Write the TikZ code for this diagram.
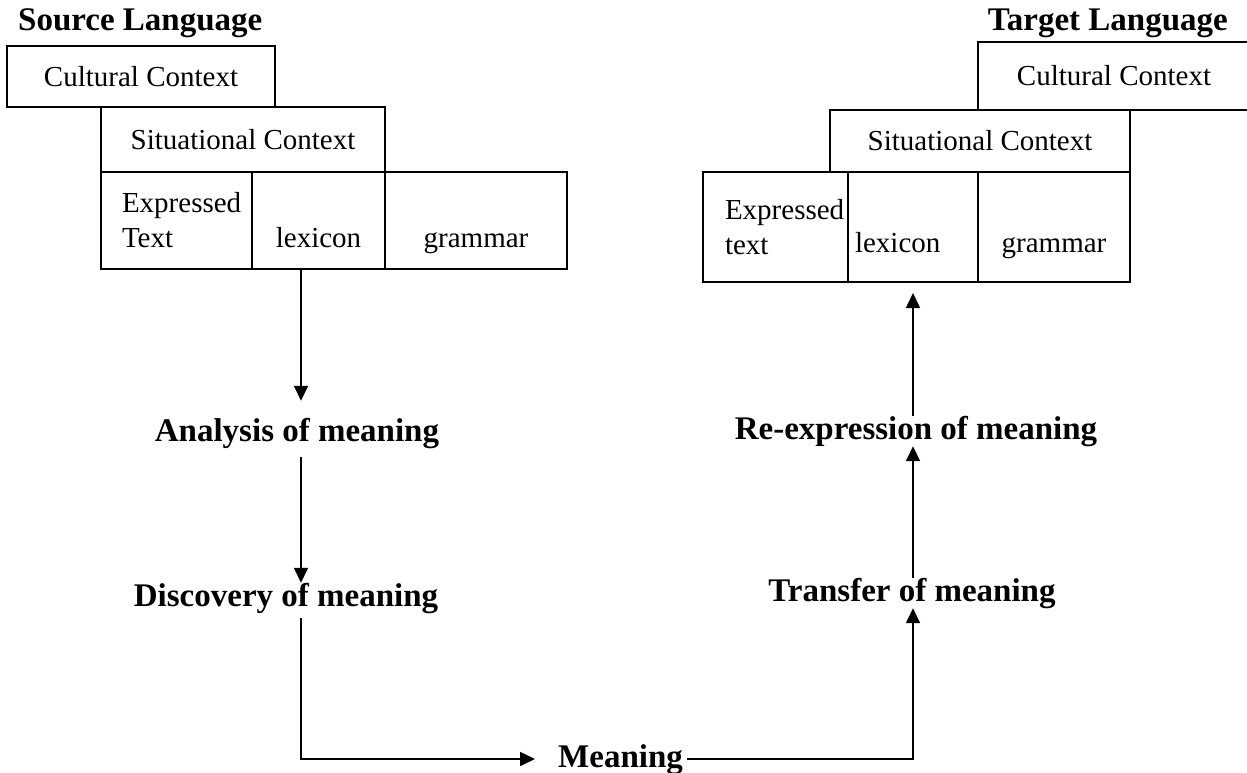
\documentclass[tikz,border=0pt]{standalone}
\usepackage{fontspec}
\setmainfont{Liberation Serif}
\usetikzlibrary{arrows.meta,positioning}
\tikzset{
  context box/.style={draw,line width=1.6pt,inner sep=0pt,outer sep=0pt,
    anchor=north west,font=\fontsize{29}{35}\selectfont},
  target box/.style={context box,line width=2.6pt},
  low text/.style n args={2}{text height=#1,text depth=#2},
  stage label/.style={inner sep=0pt,text height=23pt,text depth=7pt,
    font=\bfseries\fontsize{33}{38}\selectfont},
  flow arrow/.style={-{Triangle[length=15pt,width=14pt]},line width=1.6pt}
}

\begin{document}
\begin{tikzpicture}[x=1pt,y=-1pt]
\useasboundingbox (0,0) rectangle (1247,773);
\coordinate (colL) at (301,0);
\coordinate (colR) at (913,0);
% source side
\node[stage label,anchor=base west] (srcLang) at (18,31) {Source Language};
\node[context box,minimum width=268pt,minimum height=61pt] (cultL) at (7,46) {Cultural Context};
\node[context box,minimum width=284pt,minimum height=65pt] (sitL) at (101,107) {Situational Context};
\node[context box,minimum width=151pt,minimum height=97pt,text width=109pt,align=left] (exprL) at (101,172) {\mbox{Expressed}\\Text};
\node[context box,low text={75pt}{22pt},minimum width=133pt,right=0pt of exprL] (lexL) {lexicon};
\node[context box,low text={75pt}{22pt},minimum width=182pt,right=0pt of lexL] (gramL) {grammar};
% target side
\node[stage label,anchor=base east] (tgtLang) at (1228,31) {Target Language};
\node[target box,minimum width=272pt,minimum height=68pt] (cultR) at (978,42) {Cultural Context};
\node[target box,minimum width=300pt,minimum height=62pt] (sitR) at (830,110) {Situational Context};
\node[target box,minimum width=145pt,minimum height=110pt,text width=101pt,align=left] (exprR) at (703,172) {\mbox{Expressed}\\text};
\node[target box,low text={80pt}{30pt},inner xsep=7pt,text width=116pt,align=left,right=0pt of exprR] (lexR) {lexicon};
\node[target box,low text={80pt}{30pt},minimum width=152pt,right=0pt of lexR] (gramR) {grammar};
% stages of meaning
\node[stage label,anchor=base] (anL) at (297,441) {Analysis of meaning};
\node[stage label,anchor=base] (disc) at (286,606) {Discovery of meaning};
\node[stage label,anchor=base west] (mean) at (558,767) {Meaning};
\node[stage label,anchor=base] (trans) at (912,601) {Transfer of meaning};
\node[stage label,anchor=base] (reexp) at (916,439) {Re-expression of meaning};
\draw[flow arrow,shorten >=17pt] (lexL.south -| colL) -- (anL.north -| colL);
\draw[flow arrow,shorten <=9pt] (anL.south -| colL) -- (disc.north -| colL);
\draw[flow arrow,shorten <=5pt,shorten >=23pt] (disc.south -| colL) -- (colL |- mean.west) -- (mean.west);
\draw[flow arrow,shorten <=4pt] (mean.east) -- (colR |- mean.east) -- (trans.south -| colR);
\draw[flow arrow] (trans.north -| colR) -- (reexp.south -| colR);
\draw[flow arrow,shorten >=11pt] (reexp.north -| colR) -- (lexR.south -| colR);
\end{tikzpicture}
\end{document}
